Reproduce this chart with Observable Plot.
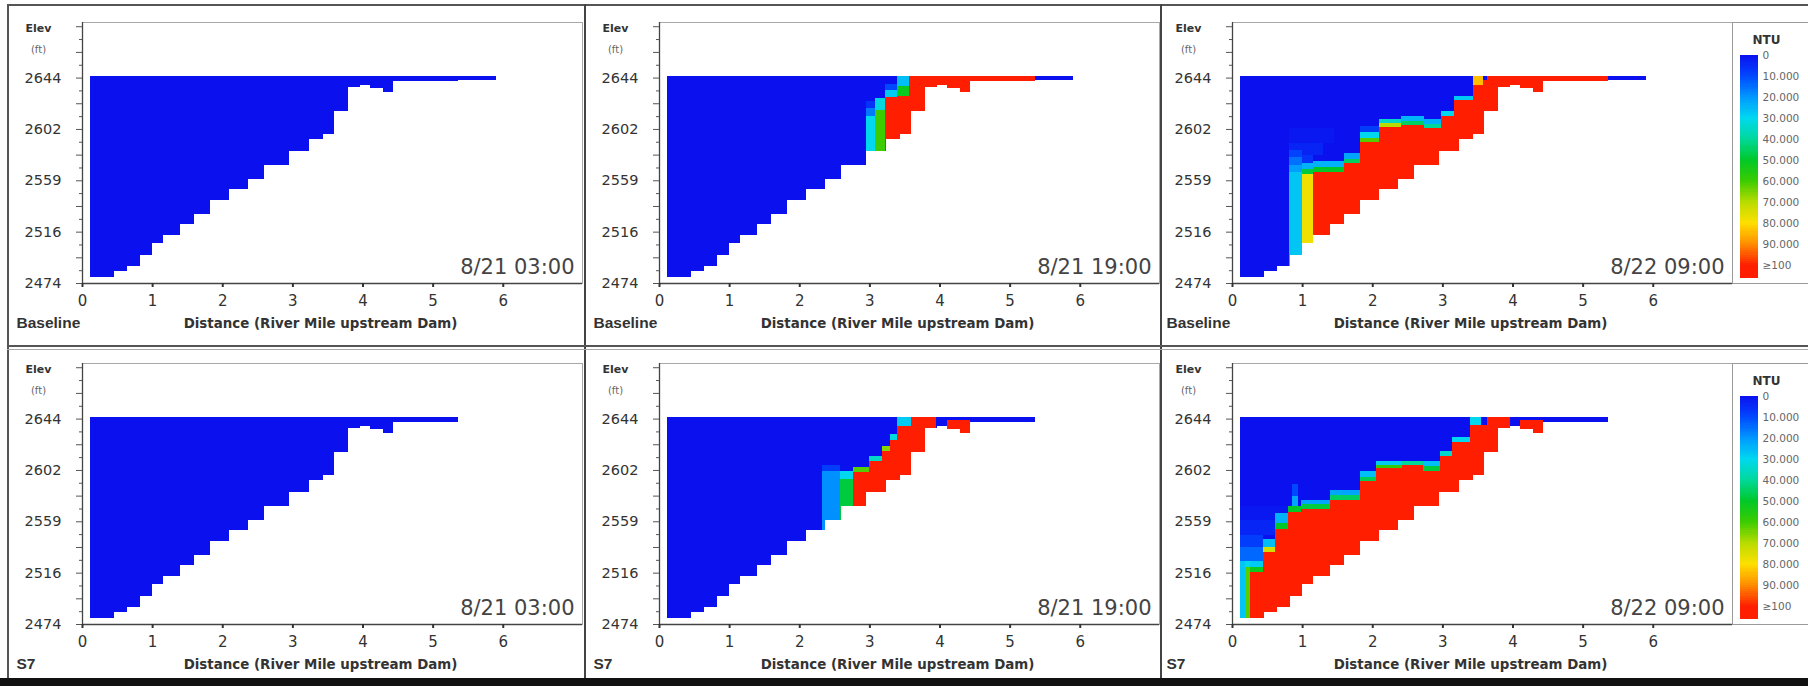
<!DOCTYPE html>
<html><head><meta charset="utf-8">
<script src="https://cdn.jsdelivr.net/npm/d3@7"></script>
<script src="https://cdn.jsdelivr.net/npm/@observablehq/plot@0.6"></script>
<style>
html,body{margin:0;padding:0;background:#fff;}
#fig{position:relative;width:1808px;height:686px;overflow:hidden;background:#fff;font-family:"DejaVu Sans",sans-serif;}
.panel{position:absolute;}
.panel svg{overflow:visible;background:transparent;}
.ln{position:absolute;z-index:5;}
.lgbox{position:absolute;border-left:1px solid #9a9a9a;border-top:1px solid #9a9a9a;border-bottom:1px solid #9a9a9a;z-index:1;}
</style></head><body><div id="fig"></div>
<script>
// ---------- DATA ----------
// reservoir grid columns (river miles) and bed elevation of each column (ft)
const colEdges = [0.12, 0.46, 0.64, 0.82, 1.0, 1.15, 1.4, 1.6, 1.83, 2.1, 2.37, 2.6, 2.95, 3.24, 3.44, 3.6, 3.8, 3.96, 4.1, 4.29, 4.43, 5.36, 5.9];
const bedElev  = [2479, 2484, 2488, 2497, 2507, 2514, 2523, 2531, 2543, 2552, 2560, 2572, 2583, 2593, 2597, 2616, 2636, 2638, 2635, 2632, 2641, 2642];
const surfaceElev = 2645;
const scenarios = ["Baseline", "S7"];
const reachEnd = [5.9, 5.36];           // upstream end of the wetted reach, per scenario
const times = ["8/21 03:00", "8/21 19:00", "8/22 09:00"];

const yTickValues = [2474, 2516.5, 2559, 2601.5, 2644];
const yTickLabels = ["2474", "2516", "2559", "2602", "2644"];
const yMidTicks   = [2495.25, 2537.75, 2580.25, 2622.75, 2665.25, 2686.5];
const yMinorTicks = [2484.6, 2505.9, 2527.1, 2548.4, 2569.6, 2590.9, 2612.1, 2633.4, 2654.6, 2675.9];
const xTickValues = [0, 1, 2, 3, 4, 5, 6];

const ntuStops  = [0, 10, 20, 30, 40, 50, 60, 70, 80, 90, 100];
const ntuColors = ["#0b10ee", "#0048ff", "#0098ff", "#00d8f0", "#00d89a", "#00c828", "#3ccc00", "#b8dc00", "#ffe000", "#ff8c00", "#ff1e00"];
const ntuLegendLabels = ["0", "10.000", "20.000", "30.000", "40.000", "50.000", "60.000", "70.000", "80.000", "90.000", "\u2265100"];

// turbid-water cells: [mile from, mile to, bottom elev (null = bed), top elev, NTU]
const plumeBase0300 = [];
const plumeS70300 = [];
const plumeBase1900 = [
  [2.95, 3.08, null, 2612, 30], [2.95, 3.08, 2612, 2619, 16], [2.95, 3.08, 2619, 2625, 6],
  [3.08, 3.22, null, 2617, 60], [3.08, 3.22, 2617, 2627, 32],
  [3.22, 3.40, null, 2628, 100], [3.22, 3.40, 2628, 2634, 28], [3.22, 3.40, 2634, 2639, 10],
  [3.40, 3.57, null, 2629, 100], [3.40, 3.57, 2629, 2637, 52], [3.40, 3.57, 2637, 2645, 26],
  [3.57, 5.36, null, 2645, 100]
];
const plumeS71900 = [
  [2.33, 2.58, null, 2601, 19], [2.33, 2.58, 2601, 2606, 8],
  [2.58, 2.77, null, 2594, 48], [2.58, 2.77, 2594, 2601, 30],
  [2.77, 2.99, null, 2600, 100], [2.77, 2.99, 2600, 2604, 62],
  [2.99, 3.18, null, 2609, 100], [2.99, 3.18, 2609, 2613, 35],
  [3.18, 3.30, null, 2617, 100], [3.18, 3.30, 2617, 2621, 66],
  [3.30, 3.40, null, 2626, 100], [3.30, 3.40, 2626, 2631, 32],
  [3.40, 3.59, null, 2638, 100], [3.40, 3.59, 2638, 2645, 28],
  [3.59, 3.95, null, 2645, 100],
  [4.10, 4.43, null, 2643, 100]
];
const plumeBase0900 = [
  [0.81, 1.45, 2590, 2602, 1.5], [0.81, 1.3, 2580, 2590, 3.5], [0.81, 1.15, 2570, 2580, 6],
  [0.81, 1.0, null, 2566, 27], [0.81, 1.0, 2566, 2572, 21], [0.81, 1.0, 2572, 2578, 15], [0.81, 1.0, 2578, 2584, 9],
  [1.0, 1.15, null, 2564, 78], [1.0, 1.15, 2564, 2568, 48], [1.0, 1.15, 2568, 2573, 24],
  [1.15, 1.59, null, 2566, 100], [1.15, 1.59, 2566, 2570, 50], [1.15, 1.59, 2570, 2575, 24],
  [1.59, 1.83, null, 2573, 100], [1.59, 1.83, 2573, 2577, 45], [1.59, 1.83, 2577, 2582, 22],
  [1.83, 2.10, null, 2591, 100], [1.83, 2.10, 2591, 2594, 62], [1.83, 2.10, 2594, 2599, 30], [1.83, 2.10, 2599, 2604, 8],
  [2.10, 2.41, null, 2603.5, 100], [2.10, 2.41, 2603.5, 2606.5, 70], [2.10, 2.41, 2606.5, 2610, 35],
  [2.41, 2.74, null, 2605, 100], [2.41, 2.74, 2605, 2608, 45], [2.41, 2.74, 2608, 2612, 25],
  [2.74, 2.98, null, 2602, 100], [2.74, 2.98, 2602, 2606, 40], [2.74, 2.98, 2606, 2610, 24],
  [2.98, 3.16, null, 2612, 100], [2.98, 3.16, 2612, 2616, 30],
  [3.16, 3.43, null, 2625.5, 100], [3.16, 3.43, 2625.5, 2629, 28],
  [3.43, 3.64, null, 2642, 100], [3.43, 3.58, 2638, 2645, 84],
  [3.64, 5.36, null, 2645, 100]
];
const plumeS70900 = [
  [0.11, 0.8, 2560, 2572, 1.5], [0.11, 0.62, 2548, 2560, 4], [0.11, 0.44, 2538, 2548, 8], [0.11, 0.44, 2526, 2538, 14],
  [0.11, 0.18, null, 2526, 27],
  [0.18, 0.26, null, 2521, 62], [0.18, 0.26, 2521, 2526, 30],
  [0.26, 0.44, null, 2517, 100], [0.26, 0.44, 2517, 2521, 52], [0.26, 0.44, 2521, 2526, 28],
  [0.44, 0.62, null, 2534, 100], [0.44, 0.62, 2534, 2538, 74], [0.44, 0.62, 2538, 2544, 26],
  [0.62, 0.80, null, 2553, 100], [0.62, 0.80, 2553, 2558, 50], [0.62, 0.80, 2558, 2566, 24],
  [0.80, 0.98, null, 2567, 100], [0.80, 0.98, 2567, 2572, 50], [0.85, 0.94, 2572, 2580, 22], [0.85, 0.94, 2580, 2590, 10],
  [0.98, 1.40, null, 2569, 100], [0.98, 1.40, 2569, 2573, 48], [0.98, 1.40, 2573, 2577, 22],
  [1.40, 1.82, null, 2577, 100], [1.40, 1.82, 2577, 2581, 45], [1.40, 1.82, 2581, 2585, 22],
  [1.82, 2.06, null, 2592, 100], [1.82, 2.06, 2592, 2596, 46], [1.82, 2.06, 2596, 2601, 26],
  [2.06, 2.42, null, 2603, 100], [2.06, 2.42, 2603, 2606, 58], [2.06, 2.42, 2606, 2609, 28],
  [2.42, 2.72, null, 2606, 100], [2.42, 2.72, 2606, 2609, 40],
  [2.72, 2.96, null, 2601, 100], [2.72, 2.96, 2601, 2605, 48], [2.72, 2.96, 2605, 2609, 26],
  [2.96, 3.14, null, 2613, 100], [2.96, 3.14, 2613, 2617, 34],
  [3.14, 3.39, null, 2625, 100], [3.14, 3.39, 2625, 2629, 30],
  [3.39, 3.63, null, 2639, 100], [3.39, 3.55, 2639, 2645, 30],
  [3.63, 3.96, null, 2645, 100],
  [4.10, 4.43, null, 2643, 100]
];
const plumes = [[plumeBase0300, plumeBase1900, plumeBase0900], [plumeS70300, plumeS71900, plumeS70900]];

// ---------- BUILD ----------
const colorOpts = {type: "linear", domain: ntuStops, range: ntuColors, clamp: true};
const FONT = "DejaVu Sans, sans-serif";

function waterCells(end) {
  const out = [];
  for (let i = 0; i < bedElev.length; i++) {
    const x0 = colEdges[i], x1 = Math.min(colEdges[i + 1], end);
    if (x1 > x0) out.push({x0, x1, y0: bedElev[i], y1: surfaceElev, ntu: 0});
  }
  return out;
}
function plumeCells(plume, end) {
  const out = [];
  for (const [a, b, lo, hi, ntu] of plume) {
    for (let i = 0; i < bedElev.length; i++) {
      const x0 = Math.max(a, colEdges[i]), x1 = Math.min(b, colEdges[i + 1], end);
      if (x1 <= x0) continue;
      const y0 = Math.max(lo == null ? bedElev[i] : lo, bedElev[i]);
      const y1 = Math.min(hi, surfaceElev);
      if (y1 > y0) out.push({x0, x1, y0, y1, ntu});
    }
  }
  return out;
}

const fig = document.getElementById("fig");
const colLeft = [0, 577, 1150];
const rowTop = [0, 341];

function makePanel(r, c) {
  const end = reachEnd[r];
  const chart = Plot.plot({
    width: 585, height: 340,
    marginLeft: 82, marginRight: 3, marginTop: 22, marginBottom: 57,
    x: {domain: [0, 7.13], axis: null},
    y: {domain: [2474, 2690], axis: null},
    color: colorOpts,
    style: {fontFamily: FONT, background: "transparent", color: "#333", overflow: "visible"},
    marks: [
      Plot.frame({stroke: "#a8a8a8"}),
      Plot.rect(waterCells(end), {x1: "x0", x2: "x1", y1: "y0", y2: "y1", fill: "ntu", shapeRendering: "crispEdges"}),
      Plot.rect(plumeCells(plumes[r][c], end), {x1: "x0", x2: "x1", y1: "y0", y2: "y1", fill: "ntu", shapeRendering: "crispEdges"}),
      Plot.ruleX([0], {stroke: "#444", strokeWidth: 1.3}),
      Plot.ruleY([2474], {stroke: "#444", strokeWidth: 1.3}),
      Plot.axisY(yMinorTicks, {tickSize: 3, tickFormat: () => "", label: null, stroke: "#555"}),
      Plot.axisY(yMidTicks, {tickSize: 6, tickFormat: () => "", label: null, stroke: "#555"}),
      Plot.axisY(yTickValues, {tickSize: 6, tickPadding: 15, label: null, stroke: "#555",
        tickFormat: d => yTickLabels[yTickValues.indexOf(d)], fontSize: 14.5, fill: "#333"}),
      Plot.axisX(xTickValues, {tickSize: 4, tickPadding: 8, label: null, stroke: "#333", strokeWidth: 2,
        fontSize: 15, fill: "#333"}),
      Plot.text([times[c]], {frameAnchor: "bottom-right", dx: -8, dy: -10, textAnchor: "end", lineAnchor: "bottom",
        fontSize: 21, fill: "#444"}),
      Plot.text(["Elev"], {frameAnchor: "top-left", dx: -44, dy: 6, textAnchor: "middle", lineAnchor: "middle",
        fontSize: 11, fontWeight: "bold", fill: "#333"}),
      Plot.text(["(ft)"], {frameAnchor: "top-left", dx: -44, dy: 27, textAnchor: "middle", lineAnchor: "middle",
        fontSize: 10, fill: "#666"}),
      Plot.text([scenarios[r]], {frameAnchor: "bottom-left", dx: -66, dy: 40, textAnchor: "start", lineAnchor: "middle",
        fontSize: 15.5, fontWeight: "bold", fill: "#333", fontFamily: "Liberation Sans, Arial, sans-serif"}),
      Plot.text(["Distance (River Mile upstream Dam)"], {frameAnchor: "bottom-left", dx: 238, dy: 40, textAnchor: "middle",
        lineAnchor: "middle", fontSize: 13.4, fontWeight: "bold", fill: "#333"})
    ]
  });
  const d = document.createElement("div");
  d.className = "panel";
  d.style.left = colLeft[c] + "px";
  d.style.top = rowTop[r] + "px";
  d.appendChild(chart);
  fig.appendChild(d);
}

function makeLegend(r) {
  const box = document.createElement("div");
  box.className = "lgbox";
  box.style.left = (colLeft[2] + 582) + "px";
  box.style.top = (rowTop[r] + 22) + "px";
  box.style.width = "90px";
  box.style.height = "260px";
  fig.appendChild(box);
  const ramp = d3.range(0, 106, 1);
  const lg = Plot.plot({
    width: 75, height: 262, marginLeft: 7, marginRight: 50, marginTop: 33, marginBottom: 19,
    x: {domain: [0, 1], axis: null},
    y: {domain: [0, 100], reverse: true, axis: null},
    color: colorOpts,
    style: {fontFamily: FONT, background: "transparent", overflow: "visible"},
    marks: [
      Plot.rect(ramp, {x1: 0, x2: 1, y1: d => d, y2: d => d + 1, fill: d => d + 0.5, shapeRendering: "crispEdges"}),
      Plot.axisY(ntuStops, {anchor: "right", tickSize: 0, tickPadding: 4, label: null,
        tickFormat: d => ntuLegendLabels[ntuStops.indexOf(d)], fontSize: 10.5, fill: "#666"}),
      Plot.text(["NTU"], {frameAnchor: "top", dx: 17, dy: -20, fontSize: 12, fontWeight: "bold", fill: "#333"})
    ]
  });
  const d = document.createElement("div");
  d.className = "panel";
  d.style.left = (colLeft[2] + 583) + "px";
  d.style.top = (rowTop[r] + 22) + "px";
  d.style.zIndex = 2;
  d.appendChild(lg);
  fig.appendChild(d);
}

for (let r = 0; r < 2; r++) {
  for (let c = 0; c < 3; c++) makePanel(r, c);
  makeLegend(r);
}

// figure frame lines
function line(l, t, w, h, col) {
  const e = document.createElement("div");
  e.className = "ln";
  Object.assign(e.style, {left: l + "px", top: t + "px", width: w + "px", height: h + "px", background: col});
  fig.appendChild(e);
}
line(7, 4, 1801, 2, "#555");
line(7, 4, 2, 676, "#555");
line(584, 4, 2, 676, "#444");
line(1160, 4, 2, 676, "#444");
line(7, 345, 1801, 2, "#555");
line(7, 349, 1801, 1, "#aaa");
line(0, 678, 1808, 8, "#111");
</script>
</body></html>
